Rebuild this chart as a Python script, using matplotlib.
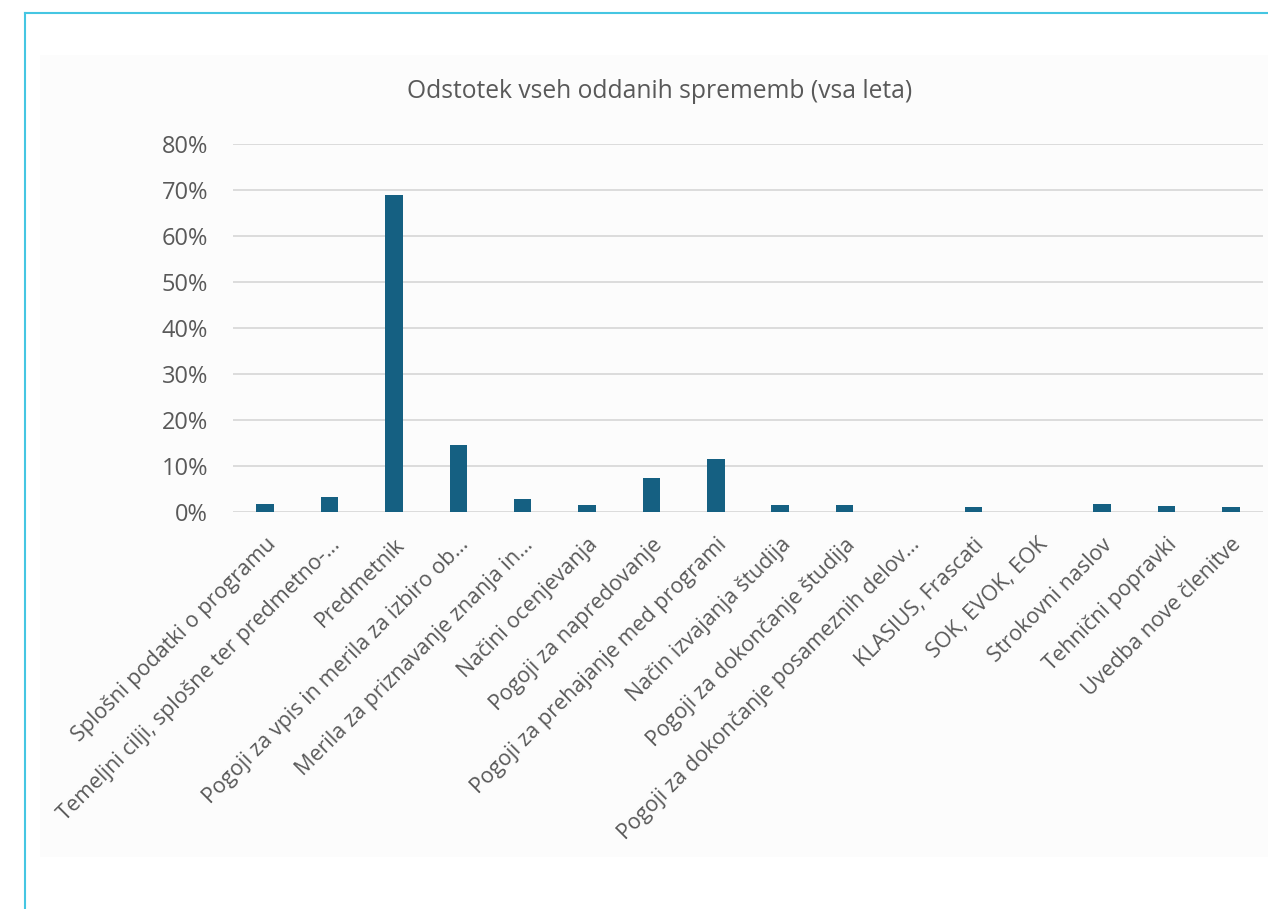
import matplotlib
matplotlib.use("Agg")
import matplotlib.pyplot as plt
from matplotlib.patches import Rectangle
from matplotlib.lines import Line2D
from matplotlib.ticker import FuncFormatter

categories = [
    "Splošni podatki o programu",
    "Temeljni cilji, splošne ter predmetno-…",
    "Predmetnik",
    "Pogoji za vpis in merila za izbiro ob…",
    "Merila za priznavanje znanja in…",
    "Načini ocenjevanja",
    "Pogoji za napredovanje",
    "Pogoji za prehajanje med programi",
    "Način izvajanja študija",
    "Pogoji za dokončanje študija",
    "Pogoji za dokončanje posameznih delov…",
    "KLASIUS, Frascati",
    "SOK, EVOK, EOK",
    "Strokovni naslov",
    "Tehnični popravki",
    "Uvedba nove členitve",
]
shares = [0.017, 0.033, 0.689, 0.146, 0.028, 0.015, 0.074, 0.115,
          0.015, 0.015, 0.0, 0.011, 0.0, 0.017, 0.013, 0.010]
yticks = [0.0, 0.1, 0.2, 0.3, 0.4, 0.5, 0.6, 0.7, 0.8]

BAR = "#156082"
GRID = "#d9d9d9"
TXT = "#595959"
CYAN = "#45c6e2"
FONT = ["Open Sans", "DejaVu Sans"]

W, H = 1268, 909
fig = plt.figure(figsize=(W / 100, H / 100), dpi=100)
fig.patch.set_facecolor("white")

# chart area panel and the cyan frame
fig.add_artist(Rectangle((40 / W, 1 - 857 / H), (W - 40) / W, (857 - 55) / H,
                         transform=fig.transFigure, facecolor="#fcfcfc",
                         edgecolor="none", zorder=0))
fig.add_artist(Line2D([25 / W, 1], [1 - 13 / H, 1 - 13 / H],
                      transform=fig.transFigure, color=CYAN, lw=1.5))
fig.add_artist(Line2D([25 / W, 25 / W], [0, 1 - 13 / H],
                      transform=fig.transFigure, color=CYAN, lw=1.5))

left, right = 233 / W, 1263 / W
bottom, top = 1 - 512 / H, 1 - 144 / H
ax = fig.add_axes([left, bottom, right - left, top - bottom])
ax.set_facecolor("none")

x = list(range(len(categories)))
ax.bar(x, shares, width=0.27, color=BAR, zorder=3)

ax.set_ylim(0, 0.8)
ax.set_xlim(-0.5, len(categories) - 0.5)
ax.set_yticks(yticks)
ax.yaxis.set_major_formatter(FuncFormatter(lambda v, _: f"{v * 100:.0f}%"))
ax.grid(axis="y", color=GRID, lw=1.3, zorder=0)
for s in ax.spines.values():
    s.set_visible(False)
ax.tick_params(length=0, colors=TXT)
ax.tick_params(axis="y", pad=18)

for lab in ax.get_yticklabels():
    lab.set_fontsize(17)
    lab.set_family(FONT)

ax.set_xticks(x)
ax.set_xticklabels(categories, rotation=45, ha="right", rotation_mode="anchor",
                   fontsize=15.5, family=FONT, color=TXT)
ax.tick_params(axis="x", pad=16)

fig.text(660 / W, 1 - 92 / H, "Odstotek vseh oddanih sprememb (vsa leta)",
         ha="center", va="center", fontsize=17.7, color=TXT, family=FONT)

fig.savefig("out.png", dpi=100, facecolor="white")
